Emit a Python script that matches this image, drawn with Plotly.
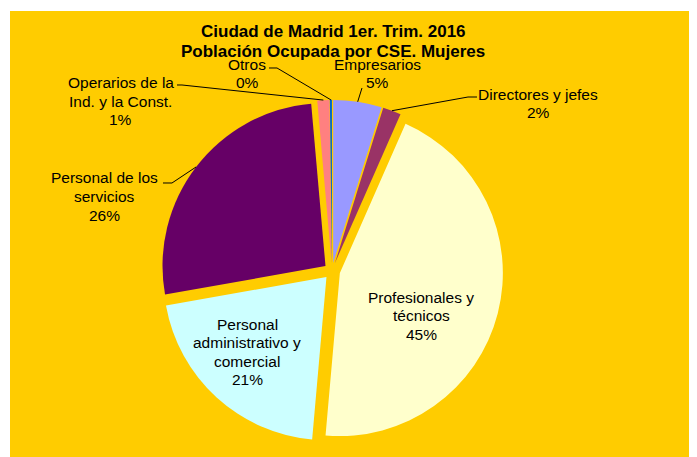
import math
import plotly.graph_objects as go

# ---------------- data ----------------
categories = ["Empresarios", "Directores y jefes", "Profesionales y técnicos",
              "Personal administrativo y comercial", "Personal de los servicios",
              "Operarios de la Ind. y la Const.", "Otros"]
label_lines = [["Empresarios"], ["Directores y jefes"], ["Profesionales y", "técnicos"],
               ["Personal", "administrativo y", "comercial"], ["Personal de los", "servicios"],
               ["Operarios de la", "Ind. y la Const."], ["Otros"]]
values = [4.8, 1.8, 44.8, 20.8, 26.4, 1.2, 0.2]
colors = ["#9999FF", "#993366", "#FFFFCC", "#CCFFFF", "#660066", "#FF8080", "#0066CC"]
inside = [False, False, True, True, False, False, False]
title_lines = ["Ciudad de Madrid 1er. Trim. 2016", "Población Ocupada por CSE. Mujeres"]

# ---------------- layout ----------------
W, H = 697, 457
OFF = 8            # page body margin of the html page
PULL = 0.05
dom_x = [0.2192, 0.7104]
dom_y = [0.0500, 0.7990]
FONT = "Liberation Sans, Arial, sans-serif"
FS = 15.5
LINE = 18.5
TITLE_FS = 17
TITLE_POS = (333, 31)
TITLE_LINE = 20

# label placement (screen pixels): text centre x, first line y, leader path start/knee
label_layout = {
    "Empresarios": dict(x=377, y0=64, path=[(362, 88)]),
    "Directores y jefes": dict(x=538, y0=94, path=[(477, 97), (468, 97)]),
    "Profesionales y técnicos": dict(x=421, y0=297, path=None),
    "Personal administrativo y comercial": dict(x=247, y0=324, path=None),
    "Personal de los servicios": dict(x=104, y0=178, path=[(163, 183), (172, 183)]),
    "Operarios de la Ind. y la Const.": dict(x=121, y0=83, path=[(177, 85), (182, 85)]),
    "Otros": dict(x=247, y0=64, path=[(269, 68), (277, 68)]),
}


def px2paper(x, y):
    return (x - OFF) / W, 1 - (y - OFF) / H


# pie geometry as plotly computes it (figure pixels)
box_w = W * (dom_x[1] - dom_x[0])
box_h = H * (dom_y[1] - dom_y[0])
R = min(box_w, box_h) / 2 / (1 + PULL)
CX = W * (dom_x[0] + dom_x[1]) / 2 + OFF
CY = H * (1 - dom_y[0]) - box_h / 2 + OFF

total = sum(values)
pcts = [round(v / total * 100) for v in values]

fig = go.Figure(go.Pie(
    labels=categories,
    values=values,
    textinfo="none",
    sort=False,
    direction="clockwise",
    rotation=0,
    pull=[PULL] * len(values),
    marker=dict(colors=colors, line=dict(width=0)),
    domain=dict(x=dom_x, y=dom_y),
    hoverinfo="label+percent",
    showlegend=False,
))

shapes = [
    dict(type="rect", xref="paper", yref="paper", x0=0, x1=2 / W, y0=0, y1=1,
         fillcolor="white", line=dict(width=0), layer="below"),
    dict(type="rect", xref="paper", yref="paper", x0=0, x1=1, y0=1 - 3 / H, y1=1,
         fillcolor="white", line=dict(width=0), layer="below"),
]
annotations = []

cum = 0.0
for cat, lines, v, p, ins in zip(categories, label_lines, values, pcts, inside):
    a0 = cum / total * 2 * math.pi
    cum += v
    a1 = cum / total * 2 * math.pi
    mid = (a0 + a1) / 2
    lay = label_layout[cat]
    if not ins:
        hx = CX + (1 + PULL) * R * math.sin(mid)
        hy = CY - (1 + PULL) * R * math.cos(mid)
        pts = lay["path"] + [(hx, hy)]
        d = ""
        for i, (x, y) in enumerate(pts):
            px_, py_ = px2paper(x, y)
            d += ("M" if i == 0 else " L") + f"{px_:.5f},{py_:.5f}"
        shapes.append(dict(type="path", xref="paper", yref="paper", path=d,
                           line=dict(color="black", width=1)))
    all_lines = lines + [f"{p}%"]
    for i, t in enumerate(all_lines):
        tx, ty = px2paper(lay["x"], lay["y0"] + i * LINE)
        annotations.append(dict(xref="paper", yref="paper", x=tx, y=ty,
                                xanchor="center", yanchor="middle", showarrow=False,
                                text=t,
                                font=dict(family=FONT, size=FS, color="#000000")))

for i, t in enumerate(title_lines):
    tx, ty = px2paper(TITLE_POS[0], TITLE_POS[1] + i * TITLE_LINE)
    annotations.append(dict(xref="paper", yref="paper", x=tx, y=ty,
                            xanchor="center", yanchor="middle", showarrow=False,
                            text=f"<b>{t}</b>",
                            font=dict(family=FONT, size=TITLE_FS, color="#000000")))

fig.update_layout(
    width=W, height=H,
    margin=dict(l=0, r=0, t=0, b=0),
    paper_bgcolor="#FFCC00",
    plot_bgcolor="#FFCC00",
    shapes=shapes,
    annotations=annotations,
)

fig.write_html("out.html")
